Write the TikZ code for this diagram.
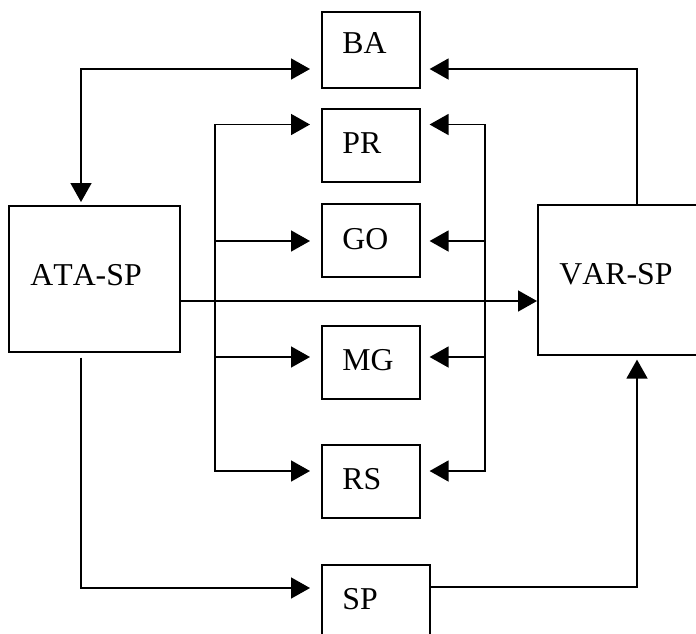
\documentclass[tikz,border=0pt]{standalone}
\usepackage{fontspec}
\setmainfont{Liberation Serif}[Kerning=Off]
\usetikzlibrary{arrows.meta,calc}
\begin{document}
\begin{tikzpicture}[x=0.5pt,y=-0.5pt,
  box/.style={draw,line width=0.8pt,inner sep=0pt,anchor=north west},
  lbl/.style={inner sep=0pt,anchor=base west,font=\fontsize{15.9pt}{19pt}\selectfont},
  conn/.style={line width=0.8pt},
  tip/.tip={Triangle[length=9.5pt,width=10.5pt]},
  arr/.style={conn,-tip},
]
\useasboundingbox (0,0) rectangle (696,633);
\clip (0,0) rectangle (696,633);
% boxes
\node[box,minimum width=85.5pt,minimum height=73pt] (ata) at (8,205) {};
\node[box,minimum width=85.5pt,minimum height=75pt] (var) at (537,204) {};
\node[box,minimum width=49pt,minimum height=38pt] (ba) at (321,11) {};
\node[box,minimum width=49pt,minimum height=36.5pt] (pr) at (321,108) {};
\node[box,minimum width=49pt,minimum height=36.5pt] (go) at (321,203) {};
\node[box,minimum width=49pt,minimum height=36.5pt] (mg) at (321,325) {};
\node[box,minimum width=49pt,minimum height=36.5pt] (rs) at (321,444) {};
\node[box,minimum width=54pt,minimum height=40pt] (sp) at (321,564) {};
% labels
\node[lbl] (ata-t) at (30,285) {ATA-SP};
\node[lbl] (var-t) at (559,284) {VAR-SP};
\node[lbl] (ba-t) at (342,53) {BA};
\node[lbl] (pr-t) at (342,153) {PR};
\node[lbl] (go-t) at (342,249) {GO};
\node[lbl] (mg-t) at (342,370) {MG};
\node[lbl] (rs-t) at (342,489) {RS};
\node[lbl] (sp-t) at (342,609) {SP};
% helper coordinates
\coordinate (ab) at (81,69);
\coordinate (lbT) at (215,124.5);
\coordinate (lbB) at (215,471);
\coordinate (lbG) at (215,241);
\coordinate (lbM) at (215,357);
\coordinate (rbT) at (485,124.5);
\coordinate (rbB) at (485,471);
\coordinate (rbG) at (485,241);
\coordinate (rbM) at (485,357);
\coordinate (m) at (300,301);
\coordinate (vb) at (637,69);
\coordinate (as) at (81,588);
\coordinate (sv) at (637,587);
% connectors
\draw[conn,tip-tip,shorten <=1.5pt,shorten >=5.5pt] (ata.north -| ab) -- (ab) -- (ba.west |- ab);
\draw[conn,tip-tip,shorten <=5.5pt,shorten >=5.5pt] (pr.west |- lbT) -- (lbT) -- (lbB) -- (rs.west |- lbB);
\draw[arr,shorten >=5.5pt] (lbG) -- (go.west |- lbG);
\draw[arr,shorten >=5.5pt] (lbM) -- (mg.west |- lbM);
\draw[conn,tip-tip,shorten <=4.5pt,shorten >=4.5pt] (pr.east |- rbT) -- (rbT) -- (rbB) -- (rs.east |- rbB);
\draw[arr,shorten >=4.5pt] (rbG) -- (go.east |- rbG);
\draw[arr,shorten >=4.5pt] (rbM) -- (mg.east |- rbM);
\draw[arr] (ata.east |- m) -- (var.west |- m);
\draw[arr,shorten >=4.5pt] (var.north -| vb) -- (vb) -- (ba.east |- vb);
\draw[arr,shorten <=2.5pt,shorten >=5.5pt] (ata.south -| as) -- (as) -- (sp.west |- as);
\draw[arr,shorten >=2pt] (sp.east |- sv) -- (sv) -- (var.south -| sv);
\end{tikzpicture}
\end{document}
